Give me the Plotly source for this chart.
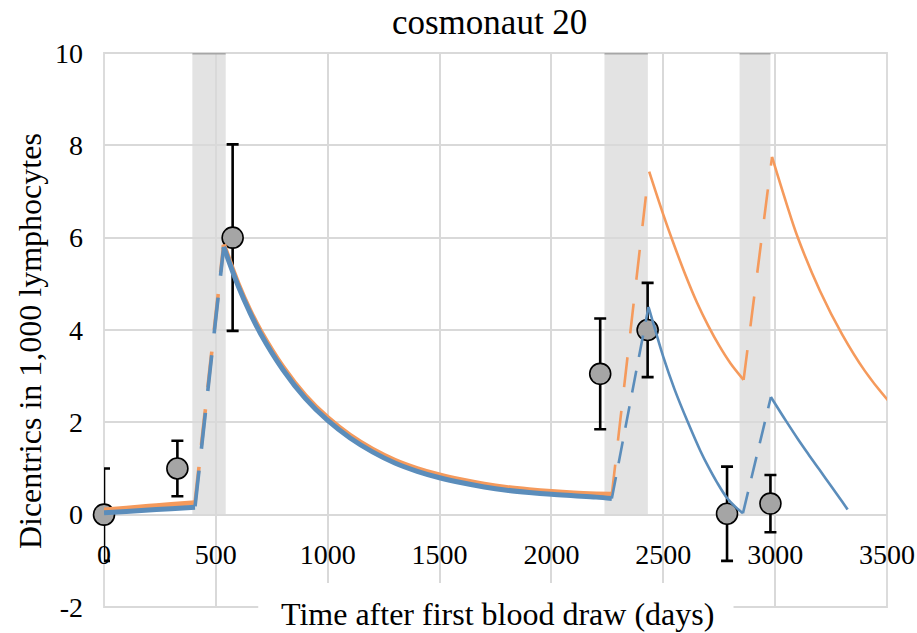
import plotly.graph_objects as go

title_text = "cosmonaut 20"
x_title = "Time after first blood draw (days)"
y_title = "Dicentrics in 1,000 lymphocytes"

x_range = [0, 3500]
y_range = [-2, 10]
x_ticks = [0, 500, 1000, 1500, 2000, 2500, 3000, 3500]
y_ticks = [-2, 0, 2, 4, 6, 8, 10]
y_tick_text = ["-2", "0", "2", "4", "6", "8", "10"]

# spaceflight periods (days after first blood draw)
mission_start = [395, 2237, 2841]
mission_end = [544, 2431, 2979]

# measured dicentric yields with uncertainty
sample_day = [0, 328, 575, 2218, 2430, 2785, 2979]
sample_yield = [0.0, 1.0, 6.0, 3.05, 4.0, 0.02, 0.24]
sample_err = [1.0, 0.6, 2.02, 1.2, 1.02, 1.02, 0.62]

# model A (orange)
a_ground1_day = [0, 100, 200, 300, 407]
a_ground1_val = [0.10, 0.14, 0.18, 0.22, 0.26]
a_flight1_day = [407, 535]
a_flight1_val = [0.26, 5.85]
a_ground2_day = [535, 600, 650, 700, 800, 900, 1000, 1100, 1200, 1300, 1400,
                  1500, 1600, 1700, 1800, 1900, 2000, 2100, 2200, 2270]
a_ground2_val = [5.85, 5.0, 4.45, 3.98, 3.2, 2.58, 2.1, 1.72, 1.42, 1.18, 1.0,
                 0.86, 0.75, 0.66, 0.59, 0.54, 0.50, 0.47, 0.45, 0.44]
a_flight2_day = [2270, 2434]
a_flight2_val = [0.44, 7.4]
a_ground3_day = [2437, 2500, 2550, 2600, 2650, 2700, 2750, 2800, 2859]
a_ground3_val = [7.43, 6.5, 5.82, 5.18, 4.6, 4.1, 3.66, 3.28, 2.92]
a_flight3_day = [2859, 2986]
a_flight3_val = [2.92, 7.75]
a_ground4_day = [2986, 3050, 3100, 3200, 3300, 3400, 3500, 3533]
a_ground4_val = [7.75, 6.75, 6.02, 4.85, 3.9, 3.12, 2.5, 2.33]

# model B (blue)
b_ground1_day = [0, 100, 200, 300, 407]
b_ground1_val = [0.04, 0.07, 0.10, 0.13, 0.16]
b_flight1_day = [407, 535]
b_flight1_val = [0.18, 5.8]
b_ground2_day = [535, 600, 650, 700, 800, 900, 1000, 1100, 1200, 1300, 1400,
                  1500, 1600, 1700, 1800, 1900, 2000, 2100, 2200, 2270]
b_ground2_val = [5.8, 4.95, 4.4, 3.92, 3.14, 2.52, 2.04, 1.66, 1.36, 1.12, 0.94,
                 0.8, 0.69, 0.6, 0.53, 0.48, 0.44, 0.41, 0.38, 0.35]
b_flight2_day = [2270, 2434]
b_flight2_val = [0.35, 4.5]
b_ground3_day = [2434, 2464, 2500, 2550, 2610, 2666, 2700, 2740, 2785, 2820, 2856]
b_ground3_val = [4.5, 4.0, 3.42, 2.72, 2.0, 1.38, 1.05, 0.7, 0.36, 0.18, 0.03]
b_flight3_day = [2856, 2981]
b_flight3_val = [0.03, 2.55]
b_ground4_day = [2981, 3050, 3100, 3150, 3200, 3250, 3300, 3324]
b_ground4_val = [2.55, 2.02, 1.65, 1.3, 0.96, 0.62, 0.28, 0.11]

ORANGE = "#F59A5C"
BLUE = "#5B8DBB"
GRID = "#D9D9D9"
SHADE = "#E3E3E3"
BAR = "#A6A6A6"
FONT = "Liberation Serif"

fig = go.Figure()

# samples first so the model curves sit on top of them
fig.add_trace(go.Scatter(
    x=sample_day, y=sample_yield, mode="markers", cliponaxis=False,
    marker=dict(size=21, color="#A5A5A5", line=dict(color="black", width=1.6)),
    error_y=dict(type="data", array=sample_err, visible=True,
                 color="black", thickness=2.6, width=6),
    hoverinfo="x+y",
))

def seg(days, vals, color, width, dash="solid"):
    fig.add_trace(go.Scatter(
        x=days, y=vals, mode="lines", line_shape="spline",
        line=dict(color=color, width=width, dash=dash),
        hoverinfo="x+y",
    ))

for color, parts, longdash, shortdash in [
    (ORANGE, [(a_ground1_day, a_ground1_val, "g1"), (a_flight1_day, a_flight1_val, "f1"),
              (a_ground2_day, a_ground2_val, "g1"), (a_flight2_day, a_flight2_val, "f2"),
              (a_ground3_day, a_ground3_val, "g2"), (a_flight3_day, a_flight3_val, "f2"),
              (a_ground4_day, a_ground4_val, "g2")], "36px,22px", "30px,24px"),
    (BLUE, [(b_ground1_day, b_ground1_val, "g1"), (b_flight1_day, b_flight1_val, "f1"),
            (b_ground2_day, b_ground2_val, "g1"), (b_flight2_day, b_flight2_val, "f2"),
            (b_ground3_day, b_ground3_val, "g2"), (b_flight3_day, b_flight3_val, "f2"),
            (b_ground4_day, b_ground4_val, "g2")], "36px,22px", "22px,14px"),
]:
    for d, v, kind in parts:
        if kind == "g1":
            seg(d, v, color, 5)
        elif kind == "f1":
            seg(d, v, color, 3.6, longdash)
        elif kind == "f2":
            seg(d, v, color, 2.6, shortdash)
        else:
            seg(d, v, color, 2.6)

# plot-area frame in the grid colour
shapes = [dict(type="rect", xref="paper", yref="paper", x0=0, x1=1, y0=0, y1=1,
               line=dict(color=GRID, width=1.8), layer="below")]
for s, e in zip(mission_start, mission_end):
    shapes.append(dict(type="rect", xref="x", yref="y", x0=s, x1=e, y0=0, y1=y_range[1],
                       fillcolor=SHADE, line_width=0, layer="below"))
    shapes.append(dict(type="line", xref="x", yref="y", x0=s, x1=e,
                       y0=y_range[1], y1=y_range[1],
                       line=dict(color=BAR, width=3), layer="above"))
# white backing behind the x-axis title, hiding the grid under it
shapes.append(dict(type="rect", xref="paper", yref="paper",
                   x0=0.197, x1=0.804, y0=-0.12, y1=0.0435,
                   fillcolor="white", line_width=0, layer="above"))

fig.update_layout(
    width=917, height=633,
    margin=dict(l=104, r=30, t=53, b=26),
    paper_bgcolor="white", plot_bgcolor="white",
    showlegend=False,
    font=dict(family=FONT, color="black"),
    title=dict(text=title_text, x=0.534, xanchor="center", y=0.966, yanchor="middle",
               font=dict(family=FONT, size=35, color="black")),
    shapes=shapes,
    xaxis=dict(range=x_range, tickvals=x_ticks, showgrid=True, gridcolor=GRID, gridwidth=1.8,
               zeroline=False, showline=False, anchor="free", automargin=False,
               position=(0 - y_range[0]) / (y_range[1] - y_range[0]),
               tickfont=dict(family=FONT, size=28), ticklabelstandoff=20),
    yaxis=dict(range=y_range, tickvals=y_ticks, ticktext=y_tick_text, showgrid=True,
               gridcolor=GRID, gridwidth=1.8, zeroline=False, showline=False,
               automargin=False,
               tickfont=dict(family=FONT, size=28), ticklabelstandoff=20),
    annotations=[
        dict(text=x_title, xref="paper", yref="paper", x=0.502, y=-0.013,
             xanchor="center", yanchor="middle", showarrow=False,
             font=dict(family=FONT, size=32, color="black")),
        dict(text=y_title, xref="paper", yref="paper", x=-0.0945, y=0.48,
             xanchor="center", yanchor="middle", textangle=-90, showarrow=False,
             font=dict(family=FONT, size=32, color="black")),
    ],
)

fig.write_html("out.html")
